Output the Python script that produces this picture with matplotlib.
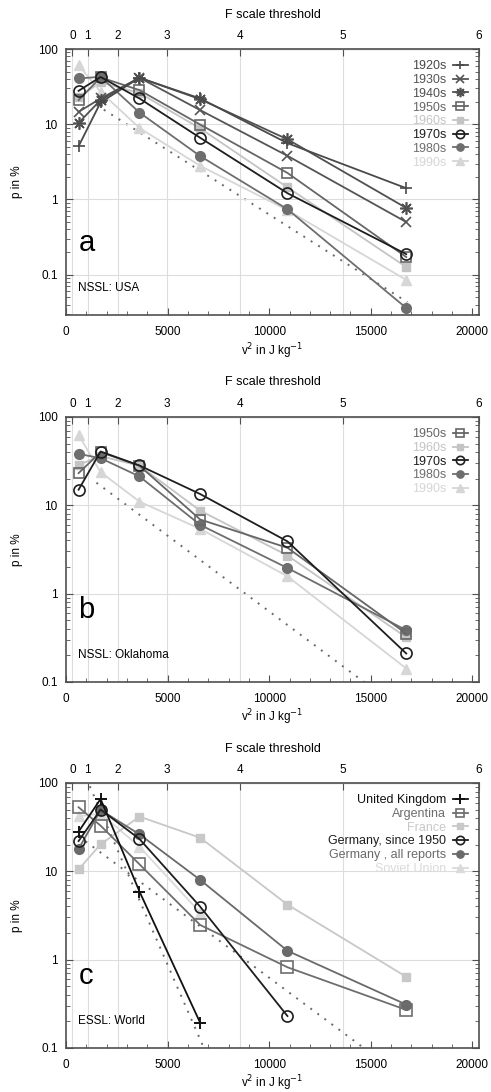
import numpy as np
import matplotlib
matplotlib.use('Agg')
import matplotlib.pyplot as plt
from matplotlib.ticker import FixedLocator, MultipleLocator, LogLocator, NullFormatter, FuncFormatter

plt.rcParams['font.family'] = ['Liberation Sans', 'DejaVu Sans']
plt.rcParams['font.size'] = 8.5

# v^2 (J/kg) at the middle of each F class
v2 = [620, 1702, 3617, 6603, 10899, 16745]

# panel a: NSSL USA, p in %
usa_labels = ['1920s', '1930s', '1940s', '1950s', '1960s', '1970s', '1980s', '1990s']
usa_1920s = [5.1, 19.5, 41.5, 22.0, 5.6, 1.41]
usa_1930s = [14.6, 22.0, 41.5, 15.4, 3.8, 0.50]
usa_1940s = [10.4, 21.0, 41.5, 21.5, 6.3, 0.77]
usa_1950s = [20.9, 42.0, 28.4, 9.9, 2.25, 0.171]
usa_1960s = [23.0, 36.0, 26.0, 8.8, 1.45, 0.126]
usa_1970s = [27.8, 42.5, 22.0, 6.6, 1.21, 0.187]
usa_1980s = [40.6, 42.7, 14.3, 3.77, 0.74, 0.036]
usa_1990s = [61.0, 27.0, 8.9, 2.8, 0.72, 0.085]

# panel b: NSSL Oklahoma
okl_labels = ['1950s', '1960s', '1970s', '1980s', '1990s']
okl_1950s = [23.1, 40.0, 28.0, 6.9, 3.3, 0.353]
okl_1960s = [28.7, 36.0, 28.0, 8.7, 2.7, 0.32]
okl_1970s = [15.0, 40.6, 28.2, 13.4, 3.9, 0.21]
okl_1980s = [38.2, 34.1, 21.2, 6.0, 1.95, 0.385]
okl_1990s = [62.6, 23.7, 11.0, 5.4, 1.57, 0.142]

# panel c: ESSL world
wld_labels = ['United Kingdom', 'Argentina', 'France', 'Germany, since 1950',
              'Germany , all reports', 'Soviet Union']
uk = [28.1, 65.9, 5.9, 0.193]
argentina = [53.1, 32.9, 12.0, 2.47, 0.82, 0.27]
france = [10.5, 20.2, 41.6, 24.0, 4.2, 0.64]
germany_1950 = [22.0, 50.0, 23.2, 3.98, 0.23]
germany_all = [17.9, 49.5, 26.2, 8.0, 1.26, 0.31]
soviet = [42.0, 45.0, 19.0, 3.4]

# dotted reference lines
ref_v2_ab = [1500, 16800]
ref_p_ab = [18, 0.043]
ref_v2_c = [620, 16800]
ref_p_c = [25.0, 0.043]
steep_v2 = [1000, 7000]
steep_p = [113, 0.077]

# Fujita: v = 6.3 (F+2)^1.5 m/s
def v2_to_F(x):
    return np.cbrt(np.asarray(x, dtype=float) / 39.69) - 2

def F_to_v2(F):
    return 39.69 * (np.asarray(F, dtype=float) + 2) ** 3

XMAX = float(F_to_v2(6))
edge = '#505050'

styles_usa = [
    dict(marker='+', color='#4a4a4a', ms=8, mew=1.2),
    dict(marker='x', color='#555555', ms=7, mew=1.2),
    dict(marker=(8, 2, 0), color='#505050', ms=9, mew=1.2),
    dict(marker='s', color='#666666', ms=7, mfc='none', mew=1.2),
    dict(marker='s', color='#c4c4c4', ms=6),
    dict(marker='o', color='#1e1e1e', ms=8, mfc='none', mew=1.2),
    dict(marker='o', color='#6e6e6e', ms=7),
    dict(marker='^', color='#d6d6d6', ms=7),
]


def setup(ax, ymin, letter, name):
    ax.set_yscale('log')
    ax.set_xlim(0, XMAX)
    ax.set_ylim(ymin, 100)
    for s in ax.spines.values():
        s.set_color(edge)
        s.set_linewidth(1.2)
    ax.yaxis.set_major_locator(FixedLocator([0.1, 1, 10, 100]))
    ax.yaxis.set_major_formatter(FuncFormatter(lambda v, p: '%g' % v))
    ax.yaxis.set_minor_locator(LogLocator(base=10, subs=np.arange(2, 10)))
    ax.yaxis.set_minor_formatter(NullFormatter())
    ax.xaxis.set_major_locator(MultipleLocator(5000))
    ax.xaxis.set_minor_locator(MultipleLocator(1000))
    ax.tick_params(which='both', direction='in', color=edge, right=True, top=False)
    ax.tick_params(which='major', length=5, pad=6)
    ax.tick_params(axis='x', which='major', pad=8)
    ax.tick_params(which='minor', length=3)
    ax.grid(axis='y', which='major', color='#dddddd', lw=0.8)
    for xg in F_to_v2(np.arange(0, 6)):
        ax.axvline(xg, color='#dddddd', lw=0.8, zorder=0)
    ax.set_xlabel('v$^2$ in J kg$^{-1}$', labelpad=2)
    ax.set_ylabel('p in %')
    ax.yaxis.set_label_coords(-0.105, 0.5)
    top = ax.secondary_xaxis('top', functions=(v2_to_F, F_to_v2))
    top.set_xticks(np.arange(0, 7))
    top.tick_params(direction='in', length=5, color=edge, pad=5)
    top.spines['top'].set_color(edge)
    top.set_xlabel('F scale threshold', labelpad=9, fontsize=9)
    ax.text(0.03, 0.22, letter, transform=ax.transAxes, fontsize=21, va='bottom')
    ax.text(0.03, 0.10, name, transform=ax.transAxes, fontsize=8.5, va='center')


def add_legend(ax, handles):
    ax.legend(handles=handles, loc='upper right', frameon=False, markerfirst=False,
              handlelength=1.2, handletextpad=0.5, labelspacing=0.14, borderaxespad=0.5,
              markerscale=0.75, labelcolor='linecolor', fontsize=9)


fig = plt.figure(figsize=(4.91, 10.92), dpi=100)
ax_a = fig.add_axes([0.1344, 0.7115, 0.841, 0.2436])
ax_b = fig.add_axes([0.1344, 0.3755, 0.841, 0.2427])
ax_c = fig.add_axes([0.1344, 0.0403, 0.841, 0.2427])

dot = dict(color='#6a6a6a', lw=1.4, ls=(0, (1, 3.5)), zorder=1)

#%% panel a
setup(ax_a, 0.029, 'a', 'NSSL: USA')
ax_a.plot(ref_v2_ab, ref_p_ab, **dot)
usa_series = [usa_1920s, usa_1930s, usa_1940s, usa_1950s, usa_1960s, usa_1970s, usa_1980s, usa_1990s]
order = [4, 7, 6, 3, 1, 2, 0, 5]
lines = {}
for i in order:
    lines[i], = ax_a.plot(v2, usa_series[i], lw=1.3, label=usa_labels[i], **styles_usa[i])
add_legend(ax_a, [lines[i] for i in range(8)])

#%% panel b
setup(ax_b, 0.1, 'b', 'NSSL: Oklahoma')
ax_b.plot(ref_v2_ab, ref_p_ab, **dot)
okl_series = [okl_1950s, okl_1960s, okl_1970s, okl_1980s, okl_1990s]
okl_styles = styles_usa[3:]
order = [1, 4, 3, 0, 2]
lines = {}
for i in order:
    lines[i], = ax_b.plot(v2, okl_series[i], lw=1.3, label=okl_labels[i], **okl_styles[i])
add_legend(ax_b, [lines[i] for i in range(5)])

#%% panel c
setup(ax_c, 0.1, 'c', 'ESSL: World')
ax_c.plot(ref_v2_c, ref_p_c, **dot)
ax_c.plot(steep_v2, steep_p, **dot)
wld_series = [uk, argentina, france, germany_1950, germany_all, soviet]
wld_styles = [
    dict(marker='+', color='#111111', ms=9, mew=1.4),
    dict(marker='s', color='#6e6e6e', ms=8, mfc='none', mew=1.2),
    dict(marker='s', color='#c8c8c8', ms=6),
    dict(marker='o', color='#1e1e1e', ms=8, mfc='none', mew=1.2),
    dict(marker='o', color='#6a6a6a', ms=7),
    dict(marker='^', color='#dadada', ms=7),
]
order = [5, 2, 4, 1, 3, 0]
lines = {}
for i in order:
    vals = wld_series[i]
    lines[i], = ax_c.plot(v2[:len(vals)], vals, lw=1.3, label=wld_labels[i], **wld_styles[i])
add_legend(ax_c, [lines[i] for i in range(6)])

fig.savefig('out.png', dpi=100)
